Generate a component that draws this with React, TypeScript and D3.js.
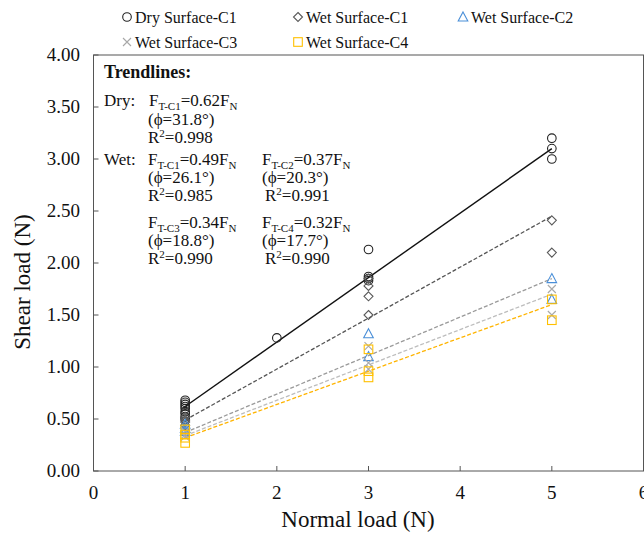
import React from "react";
import * as d3 from "d3";

// Measured shear load (N) against normal load (N) for each surface condition
const dryC1: [number, number][] = [
  [1, 0.68], [1, 0.66], [1, 0.64], [1, 0.62], [1, 0.6], [1, 0.57], [1, 0.55], [1, 0.52], [1, 0.5],
  [2, 1.28],
  [3, 2.13], [3, 1.87], [3, 1.85], [3, 1.83],
  [5, 3.2], [5, 3.1], [5, 3.0],
];
const wetC1: [number, number][] = [
  [1, 0.52], [1, 0.49], [1, 0.47], [1, 0.44],
  [3, 1.85], [3, 1.78], [3, 1.68], [3, 1.5],
  [5, 2.41], [5, 2.1],
];
const wetC2: [number, number][] = [
  [1, 0.45], [1, 0.41], [1, 0.38],
  [3, 1.32], [3, 1.1],
  [5, 1.85], [5, 1.65],
];
const wetC3: [number, number][] = [
  [1, 0.38], [1, 0.35], [1, 0.33],
  [3, 1.2], [3, 1.04], [3, 0.98],
  [5, 1.75], [5, 1.5],
];
const wetC4: [number, number][] = [
  [1, 0.4], [1, 0.35], [1, 0.32], [1, 0.27],
  [3, 1.17], [3, 0.96], [3, 0.9],
  [5, 1.65], [5, 1.45],
];

// Fitted trendline slopes (F_T = k * F_N), drawn over the tested load range
const trendSlopes = [0.62, 0.49, 0.37, 0.34, 0.32];
const trendRange = [1, 5];

const seriesNames = ["Dry Surface-C1", "Wet Surface-C1", "Wet Surface-C2", "Wet Surface-C3", "Wet Surface-C4"];
const xTicks = [0, 1, 2, 3, 4, 5, 6];
const yTicks = [0, 0.5, 1, 1.5, 2, 2.5, 3, 3.5, 4];

const W = 644;
const H = 533;
const x = d3.scaleLinear().domain([0, 6]).range([93.5, 643.5]);
const y = d3.scaleLinear().domain([0, 4]).range([471, 55]);

const serif = '"Liberation Serif", "Times New Roman", Times, serif';

const markerColors = ["#222222", "#5a5a5a", "#4a8fd8", "#a8a8a8", "#ffc000"];
const lineStyles = [
  { stroke: "#111111", dash: "none" },
  { stroke: "#555555", dash: "4,2" },
  { stroke: "#9a9a9a", dash: "4,2" },
  { stroke: "#bdbdbd", dash: "4,2" },
  { stroke: "#ffb400", dash: "4,2" },
];

type Kind = "circle" | "diamond" | "triangle" | "cross" | "square";
const kinds: Kind[] = ["circle", "diamond", "triangle", "cross", "square"];

function Marker({ kind, cx, cy, color }: { kind: Kind; cx: number; cy: number; color: string }) {
  const common = { fill: "none", stroke: color, strokeWidth: 1.1 };
  switch (kind) {
    case "circle":
      return <circle cx={cx} cy={cy} r={4.3} {...common} />;
    case "diamond":
      return <path d={`M${cx},${cy - 4.5}L${cx + 4.5},${cy}L${cx},${cy + 4.5}L${cx - 4.5},${cy}Z`} {...common} />;
    case "triangle":
      return <path d={`M${cx},${cy - 5}L${cx + 4.8},${cy + 4}L${cx - 4.8},${cy + 4}Z`} {...common} />;
    case "cross":
      return <path d={`M${cx - 4},${cy - 4}L${cx + 4},${cy + 4}M${cx + 4},${cy - 4}L${cx - 4},${cy + 4}`} {...common} />;
    case "square":
      return <rect x={cx - 4.3} y={cy - 4.3} width={8.6} height={8.6} {...common} />;
  }
}

function Eq({ px, py, sub, rest }: { px: number; py: number; sub: string; rest: string }) {
  return (
    <text x={px} y={py} fontSize={17}>
      <tspan>F</tspan>
      <tspan fontSize={11} dy={4}>{sub}</tspan>
      <tspan dy={-4}>{rest}F</tspan>
      <tspan fontSize={11} dy={4}>N</tspan>
    </text>
  );
}

function R2({ px, py, value }: { px: number; py: number; value: string }) {
  return (
    <text x={px} y={py} fontSize={17}>
      <tspan>R</tspan>
      <tspan fontSize={11} dy={-6}>2</tspan>
      <tspan dy={6}>={value}</tspan>
    </text>
  );
}

export default function App() {
  const allSeries = [dryC1, wetC1, wetC2, wetC3, wetC4];

  const legend = [
    { lx: 127, ly: 17 },
    { lx: 298, ly: 17 },
    { lx: 463, ly: 17 },
    { lx: 127, ly: 42 },
    { lx: 298, ly: 42 },
  ];

  return (
    <svg
      width={W}
      height={H}
      style={{ position: "absolute", left: 0, top: 0, background: "#fff", fontFamily: serif }}
    >
      {/* legend */}
      {seriesNames.map((name, i) => (
        <g key={name}>
          <Marker kind={kinds[i]} cx={legend[i].lx} cy={legend[i].ly} color={markerColors[i]} />
          <text x={legend[i].lx + 8} y={legend[i].ly + 5.5} fontSize={16} fill="#111">{name}</text>
        </g>
      ))}

      {/* plot frame */}
      <rect x={x(0)} y={y(4)} width={x(6) - x(0)} height={y(0) - y(4)} fill="none" stroke="#555" strokeWidth={1} />

      {/* ticks */}
      {xTicks.map((t) => (
        <g key={"x" + t}>
          <line x1={x(t)} x2={x(t)} y1={y(0)} y2={y(0) - 5} stroke="#555" />
          <text x={x(t)} y={y(0) + 28} fontSize={19} textAnchor="middle" fill="#111">{t}</text>
        </g>
      ))}
      {yTicks.map((t) => (
        <g key={"y" + t}>
          <line x1={x(0)} x2={x(0) + 5} y1={y(t)} y2={y(t)} stroke="#555" />
          <text x={80} y={y(t) + 6} fontSize={19} textAnchor="end" fill="#111">{t.toFixed(2)}</text>
        </g>
      ))}

      {/* axis titles */}
      <text x={358} y={527} fontSize={23} textAnchor="middle" fill="#111">Normal load (N)</text>
      <text transform={`translate(30,${282}) rotate(-90)`} fontSize={23} textAnchor="middle" fill="#111">Shear load (N)</text>

      {/* trendlines */}
      {trendSlopes.map((k, i) => (
        <path
          key={"t" + i}
          d={`M${x(trendRange[0])},${y(k * trendRange[0])}L${x(trendRange[1])},${y(k * trendRange[1])}`}
          fill="none"
          stroke={lineStyles[i].stroke}
          strokeWidth={i === 0 ? 1.4 : 1.3}
          strokeDasharray={lineStyles[i].dash}
        />
      ))}

      {/* data points */}
      {allSeries.map((pts, i) =>
        pts.map(([nx, sy], j) => (
          <Marker key={`m${i}-${j}`} kind={kinds[i]} cx={x(nx)} cy={y(sy)} color={markerColors[i]} />
        ))
      )}

      {/* trendline annotations */}
      <g fill="#111">
        <text x={104} y={78} fontSize={18} fontWeight="bold">Trendlines:</text>
        <text x={104} y={106} fontSize={17}>Dry:</text>
        <Eq px={149} py={106} sub="T-C1" rest="=0.62" />
        <text x={148} y={125} fontSize={17}>(ϕ=31.8°)</text>
        <R2 px={148} py={143} value="0.998" />

        <text x={104} y={165} fontSize={17}>Wet:</text>
        <Eq px={148} py={165} sub="T-C1" rest="=0.49" />
        <text x={148} y={183} fontSize={17}>(ϕ=26.1°)</text>
        <R2 px={148} py={201} value="0.985" />
        <Eq px={262} py={165} sub="T-C2" rest="=0.37" />
        <text x={262} y={183} fontSize={17}>(ϕ=20.3°)</text>
        <R2 px={265} py={201} value="0.991" />

        <Eq px={148} py={228} sub="T-C3" rest="=0.34" />
        <text x={148} y={246} fontSize={17}>(ϕ=18.8°)</text>
        <R2 px={148} py={264} value="0.990" />
        <Eq px={262} py={228} sub="T-C4" rest="=0.32" />
        <text x={262} y={246} fontSize={17}>(ϕ=17.7°)</text>
        <R2 px={265} py={264} value="0.990" />
      </g>
    </svg>
  );
}
